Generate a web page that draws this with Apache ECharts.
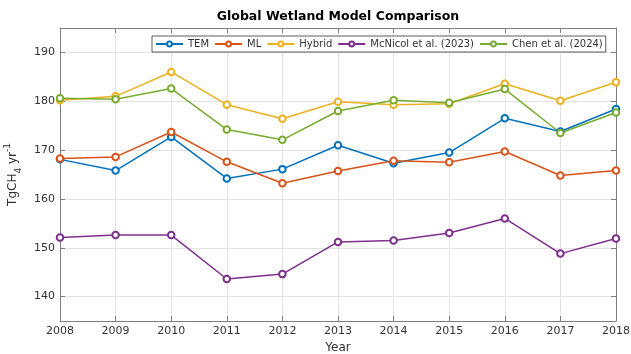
<!DOCTYPE html>
<html>
<head>
<meta charset="utf-8">
<script src="https://cdn.jsdelivr.net/npm/echarts@6/dist/echarts.min.js"></script>
<style>html,body{margin:0;padding:0;background:#fff;}#c{width:631px;height:354px;}</style>
</head>
<body>
<div id="c"></div>
<script>
const years = [2008, 2009, 2010, 2011, 2012, 2013, 2014, 2015, 2016, 2017, 2018];
const seriesNames = ['TEM', 'ML', 'Hybrid', 'McNicol et al. (2023)', 'Chen et al. (2024)'];
const tem = [168.1, 165.8, 172.7, 164.2, 166.1, 171.0, 167.3, 169.5, 176.5, 173.8, 178.4];
const ml = [168.3, 168.6, 173.7, 167.6, 163.2, 165.7, 167.8, 167.5, 169.7, 164.8, 165.8];
const hybrid = [180.2, 181.0, 186.0, 179.3, 176.4, 179.9, 179.3, 179.5, 183.6, 180.1, 183.9];
const mcnicol = [152.1, 152.6, 152.6, 143.6, 144.6, 151.2, 151.5, 153.0, 156.0, 148.8, 151.9];
const chen = [180.6, 180.4, 182.6, 174.2, 172.1, 178.0, 180.2, 179.7, 182.5, 173.5, 177.7];
const colors = ['#0072BD', '#D95319', '#EDB120', '#7E2F8E', '#77AC30'];
const allData = [tem, ml, hybrid, mcnicol, chen];

const font = 'DejaVu Sans';
const axisCol = '#808080';
const textCol = '#333333';

const chart = echarts.init(document.getElementById('c'), null, {renderer: 'canvas'});
chart.setOption({
  animation: false,
  backgroundColor: '#fff',
  color: colors,
  title: {
    text: 'Global Wetland Model Comparison',
    left: 338, top: 10, textAlign: 'center', padding: 0,
    textStyle: {fontFamily: font, fontSize: 12.5, fontWeight: 'bold', color: '#000'}
  },
  legend: {
    left: 152, top: 36, padding: [3, 3, 3, 3],
    itemWidth: 27, itemHeight: 6, itemGap: 5,
    borderColor: '#333', borderWidth: 0.8, backgroundColor: '#fff',
    textStyle: {fontFamily: font, fontSize: 10, color: textCol},
    data: seriesNames
  },
  grid: {left: 60, right: 15, top: 28, bottom: 33, outerBoundsMode: 'none', containLabel: false},
  xAxis: [{
    type: 'value', min: 2008, max: 2018, interval: 1,
    name: 'Year', nameLocation: 'middle', nameGap: 20,
    nameTextStyle: {fontFamily: font, fontSize: 12, color: textCol},
    axisLine: {show: true, lineStyle: {color: axisCol, width: 1}},
    axisTick: {show: true, inside: true, length: 5, lineStyle: {color: axisCol}},
    axisLabel: {fontFamily: font, fontSize: 11, color: textCol, margin: 5, formatter: v => String(v)},
    splitLine: {show: true, lineStyle: {color: '#e3e3e3', width: 1}}
  }, {
    type: 'value', min: 2008, max: 2018, interval: 1, position: 'top',
    axisLine: {show: true, lineStyle: {color: axisCol, width: 1}},
    axisTick: {show: true, inside: true, length: 5, lineStyle: {color: axisCol}},
    axisLabel: {show: false}, splitLine: {show: false}
  }],
  yAxis: [{
    type: 'value', min: 135, max: 195, splitNumber: 6,
    name: '{b|TgCH}{s|4}{b| yr}{p|-1}', nameLocation: 'middle', nameGap: 30,
    nameRotate: 90,
    nameTextStyle: {
      fontFamily: font, fontSize: 12, color: textCol,
      rich: {
        b: {fontFamily: font, fontSize: 12, color: textCol, lineHeight: 20, verticalAlign: 'middle'},
        s: {fontFamily: font, fontSize: 9, color: textCol, lineHeight: 20, verticalAlign: 'bottom'},
        p: {fontFamily: font, fontSize: 9, color: textCol, lineHeight: 20, verticalAlign: 'top'}
      }
    },
    axisLine: {show: true, lineStyle: {color: axisCol, width: 1}},
    axisTick: {show: true, inside: true, length: 5, lineStyle: {color: axisCol}},
    axisLabel: {fontFamily: font, fontSize: 11, color: textCol, margin: 5, showMinLabel: false, showMaxLabel: false,
      formatter: v => (v % 10 === 0 ? String(v) : '')},
    splitLine: {show: true, lineStyle: {color: '#e3e3e3', width: 1}}
  }, {
    type: 'value', min: 135, max: 195, splitNumber: 6, position: 'right',
    axisLine: {show: true, lineStyle: {color: axisCol, width: 1}},
    axisTick: {show: true, inside: true, length: 5, lineStyle: {color: axisCol}},
    axisLabel: {show: false}, splitLine: {show: false}
  }],
  series: seriesNames.map((n, i) => ({
    name: n, type: 'line',
    data: years.map((y, j) => [y, allData[i][j]]),
    symbol: 'emptyCircle', symbolSize: 6.5,
    lineStyle: {width: 1.5, color: colors[i]},
    itemStyle: {color: colors[i], borderWidth: 1}
  }))
});
</script>
</body>
</html>
